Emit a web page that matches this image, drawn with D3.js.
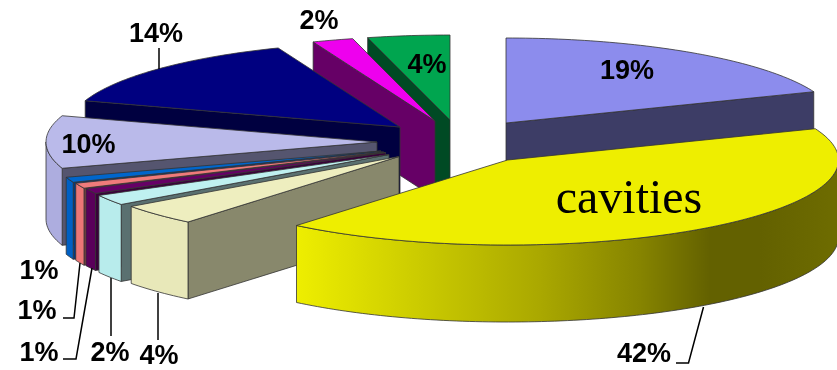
<!DOCTYPE html>
<html><head><meta charset="utf-8">
<script src="https://cdnjs.cloudflare.com/ajax/libs/d3/7.8.5/d3.min.js"></script>
<style>html,body{margin:0;padding:0;background:#fff;overflow:hidden}svg{display:block;filter:blur(0.4px)}</style>
</head><body><script>
// data
const categories = ["a","cavities","b","c","d","e","f","g","h","i","j"];
const values     = [19,42,4,2,1,1,1,10,14,2,4];
const percentLabels = values.map(v => v + "%");
// styling (top face, outer wall, radial face)
const topColors  = ["#8c8ced","#eeee00","#eeeebf","#bff0f0","#660066","#ef7b7b","#0066cc","#babaea","#000080","#ee00ee","#00a54f"];
const wallColors = ["#8c8ced","url(#yellowWall)","#e8e8b9","#b8ecec","#5a005a","#ec7676","#0060c4","#adaddf","#000080","#ee00ee","#00a54f"];
const faceColors = ["#3d3d66","#6b6b00","#88886c","#5a7070","#3a003a","#8a4444","#003a80","#55556f","#000040","#660066","#004a24"];
// layout: exploded slice centres, in slice order
const centreX = [506,507.5,399,389,385.5,383.5,381,377,400,435,450];
const centreY = [123,160,156.5,154.5,152.5,152,151,142,127,121,120];
const drawOrder = [10,9,8,7,6,5,4,3,2,0,1];
const rx = 331, ry = 85, depth = 77;
// label placement
const labelX = [627,644,159,110,39,37,39,88.5,156,319,427];
const labelY = [79,362,364,361,361,319,279,153,42,29,73];
const leaders = [
  null,
  [[676,363],[688.5,363],[703.5,307]],
  [[158,293],[158,340]],
  [[111,278],[111,336]],
  [[63,359],[76,359],[92,268]],
  [[63,318],[74,318],[80,263]],
  null, null,
  [[159,48],[159,69]],
  null, null
];
const wallStops = [[0,"#eeee00"],[0.246,"#c8c800"],[0.45,"#aaa800"],[0.635,"#868400"],[0.765,"#636100"],[0.857,"#636100"],[1,"#6e6c00"]];

const W = 837, H = 370;
const svg = d3.select("body").append("svg").attr("width",W).attr("height",H);
const grad = svg.append("defs").append("linearGradient").attr("id","yellowWall")
  .attr("gradientUnits","userSpaceOnUse").attr("x1",297).attr("x2",837).attr("y1",0).attr("y2",0);
wallStops.forEach(([o,c]) => grad.append("stop").attr("offset",o).attr("stop-color",c));

const arcs = d3.pie().sort(null).value(d=>d)(values);
const sx = d3.scaleLinear().domain([-1,1]).range([-rx,rx]);
const sy = d3.scaleLinear().domain([-1,1]).range([ry,-ry]);
const line = d3.line();
const pt = (i,a,dz=0) => [centreX[i]+sx(Math.sin(a)), centreY[i]+sy(Math.cos(a))+dz];
const sample = (a0,a1) => { const n=Math.max(2,Math.ceil((a1-a0)/0.02)); return d3.range(n+1).map(k=>a0+(a1-a0)*k/n); };
const edge = "#333";

drawOrder.forEach(i => {
  const s = arcs[i], a0 = s.startAngle, a1 = s.endAngle;
  const g = svg.append("g");
  const apex = [centreX[i],centreY[i]], apexB=[centreX[i],centreY[i]+depth];
  const face = (a) => g.append("path").attr("d",line([apex,pt(i,a),pt(i,a,depth),apexB])+"Z")
      .attr("fill",faceColors[i]).attr("stroke",edge).attr("stroke-width",.8).attr("stroke-linejoin","round");
  if (Math.sin(a1) > 0.01) face(a1);
  if (Math.sin(a0) < -0.01) face(a0);
  const lo = Math.max(a0,Math.PI/2), hi = Math.min(a1,3*Math.PI/2);
  if (hi > lo) {
    const as = sample(lo,hi);
    g.append("path").attr("d",line(as.map(a=>pt(i,a)).concat(as.slice().reverse().map(a=>pt(i,a,depth))))+"Z")
      .attr("fill",wallColors[i]).attr("stroke",edge).attr("stroke-width",.8).attr("stroke-linejoin","round");
  }
  g.append("path").attr("d",line([apex].concat(sample(a0,a1).map(a=>pt(i,a))))+"Z")
    .attr("fill",topColors[i]).attr("stroke",edge).attr("stroke-width",.8).attr("stroke-linejoin","round");
});

svg.append("g").selectAll("path").data(leaders.filter(Boolean)).join("path")
  .attr("d",d=>line(d)).attr("fill","none").attr("stroke","#000").attr("stroke-width",1.5);

svg.append("g").selectAll("text").data(percentLabels).join("text")
  .attr("x",(d,i)=>labelX[i]).attr("y",(d,i)=>labelY[i]).attr("text-anchor","middle")
  .attr("font-family","'Liberation Sans',Arial,sans-serif").attr("font-weight","bold").attr("font-size",27)
  .attr("fill","#000").text(d=>d);

svg.append("text").attr("x",629).attr("y",213).attr("text-anchor","middle")
  .attr("font-family","'Liberation Serif','Times New Roman',serif").attr("font-size",48)
  .attr("fill","#000").text(categories[1]);
</script></body></html>
